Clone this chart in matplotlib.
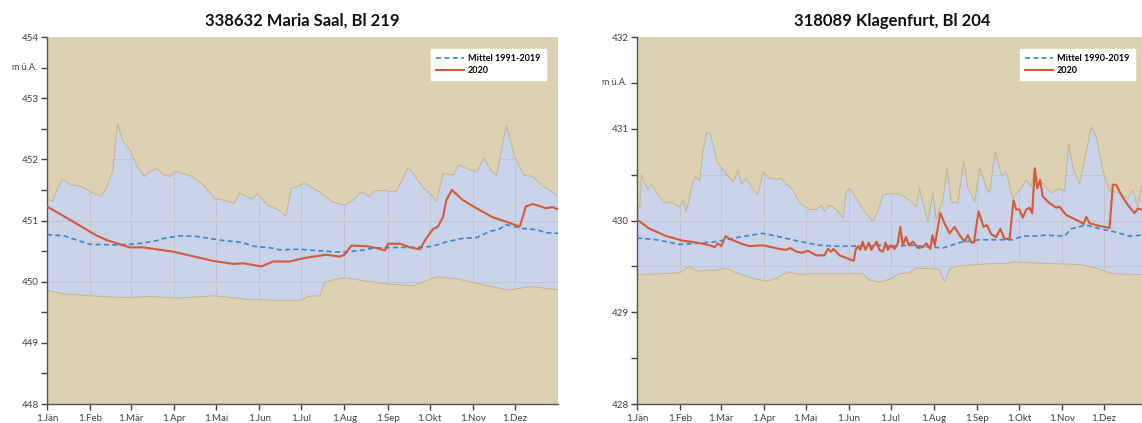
import matplotlib
matplotlib.use("Agg")
import matplotlib.pyplot as plt
from matplotlib.patches import Polygon
from matplotlib.ticker import MultipleLocator

plt.rcParams["font.family"] = ["Lato", "DejaVu Sans"]

# Month starts (day of year, 2020) and their labels
month_days = [0, 31, 60, 91, 121, 152, 182, 213, 244, 274, 305, 335]
month_labels = ["1.Jän", "1.Feb", "1.Mär", "1.Apr", "1.Mai", "1.Jun",
                "1.Jul", "1.Aug", "1.Sep", "1.Okt", "1.Nov", "1.Dez"]

# ---------------- 338632 Maria Saal, Bl 219 ----------------
ms_title = "338632 Maria Saal, Bl 219"
ms_mean_label = "Mittel 1991-2019"

ms_max_days = [0, 4, 7, 11, 13, 17, 21, 27, 34, 39, 43, 47, 50.5, 54, 59.5, 64.6,
               70, 73.6, 78.7, 84, 87.7, 91.6, 96.7, 104, 112, 120, 125, 134, 138,
               143, 147, 150.5, 158, 166, 171, 175, 179, 184, 189, 197, 204, 209.7,
               213, 219, 225, 231, 234.8, 241.5, 250, 255, 258.6, 264.7, 269, 276.5,
               279, 283.7, 291, 294.5, 300.6, 308, 313, 318.5, 322, 329, 335, 341.6,
               348, 355.7, 360, 366]
ms_max_vals = [451.36, 451.31, 451.50, 451.67, 451.66, 451.58, 451.58, 451.53, 451.44,
               451.40, 451.55, 451.80, 452.59, 452.31, 452.15, 451.88, 451.72, 451.80,
               451.85, 451.74, 451.72, 451.80, 451.77, 451.72, 451.58, 451.36, 451.34,
               451.28, 451.45, 451.39, 451.35, 451.44, 451.25, 451.17, 451.07, 451.53,
               451.55, 451.61, 451.55, 451.44, 451.31, 451.27, 451.25, 451.33, 451.47,
               451.39, 451.49, 451.49, 451.47, 451.69, 451.87, 451.69, 451.55, 451.39,
               451.31, 451.77, 451.74, 451.91, 451.85, 451.80, 452.02, 451.80, 451.74,
               452.56, 452.04, 451.74, 451.72, 451.55, 451.50, 451.40]

ms_min_days = [0, 12, 30, 56, 73.6, 94, 120, 145, 171, 182.6, 186.5, 195.4, 199,
               207, 214.7, 231, 245.6, 262, 279, 293, 312, 331, 345.7, 366]
ms_min_vals = [449.86, 449.80, 449.77, 449.74, 449.76, 449.73, 449.77, 449.71, 449.69,
               449.70, 449.76, 449.77, 449.99, 450.04, 450.06, 450.00, 449.96, 449.93,
               450.08, 450.05, 449.95, 449.86, 449.92, 449.87]

ms_mean_days = [0, 12, 30.8, 50.5, 59.4, 68.5, 78.5, 84, 95.2, 107, 123.8, 140, 147.7,
                161, 166.8, 181, 191.6, 212, 227.5, 233.6, 253, 269, 276.5, 286, 298,
                307.6, 317, 324, 329, 341, 350.6, 357.6, 366]
ms_mean_vals = [450.77, 450.75, 450.61, 450.60, 450.61, 450.63, 450.67, 450.71, 450.75,
                450.74, 450.68, 450.64, 450.58, 450.55, 450.52, 450.53, 450.51, 450.48,
                450.52, 450.55, 450.56, 450.56, 450.58, 450.65, 450.71, 450.72, 450.82,
                450.86, 450.93, 450.87, 450.85, 450.80, 450.79]

ms_2020_days = [0, 12, 18.8, 35, 42.7, 59.4, 69, 90.4, 119, 133.4, 140.6, 153.7, 162,
                174, 181, 188, 200, 209.7, 213, 218, 229, 236, 242, 244.3, 253, 260,
                267, 272, 276.5, 280, 283.7, 286, 290, 298, 307.6, 319.5, 329, 338.6,
                343, 348, 357.6, 362, 366]
ms_2020_vals = [451.23, 451.07, 450.98, 450.76, 450.68, 450.56, 450.56, 450.49, 450.34,
                450.29, 450.30, 450.25, 450.33, 450.33, 450.37, 450.40, 450.44, 450.41,
                450.44, 450.59, 450.58, 450.55, 450.51, 450.62, 450.62, 450.56, 450.53,
                450.72, 450.86, 450.90, 451.06, 451.33, 451.50, 451.33, 451.20, 451.05,
                450.98, 450.90, 451.23, 451.27, 451.20, 451.22, 451.18]

# ---------------- 318089 Klagenfurt, Bl 204 ----------------
kf_title = "318089 Klagenfurt, Bl 204"
kf_mean_label = "Mittel 1990-2019"

kf_max_days = [0, 2, 3.1, 6.2, 7.9, 10.3, 13.9, 18.7, 25.8, 30.6, 33, 35.4, 39, 41.4,
               45, 47.3, 50.2, 52.6, 57.4, 64.1, 68.9, 72.5, 74.9, 78.5, 82, 86.8, 90.4,
               95.2, 100, 103.6, 107, 112, 116.7, 124, 128.7, 132.3, 134.6, 138.2, 143,
               147.8, 150.2, 152.6, 157.4, 162, 169.3, 172.9, 176.5, 181.3, 188.5,
               195.6, 200.4, 202.8, 205.2, 208.8, 212.3, 214.8, 219.5, 222.7, 225.5,
               230.3, 234.4, 237.5, 242.3, 245.8, 250.6, 253, 257.1, 261.4, 265, 269.7,
               274.5, 279.4, 283, 284.8, 287.7, 291.2, 297.3, 303.2, 306.8, 309.9,
               312.8, 317.6, 321.2, 326, 329.6, 334.3, 339.1, 346.3, 352.2, 355.8,
               359.4, 362, 366]
kf_max_vals = [430.13, 430.14, 430.50, 430.39, 430.33, 430.40, 430.31, 430.20, 430.19,
               430.15, 430.22, 430.10, 430.35, 430.48, 430.43, 430.75, 430.96, 430.95,
               430.64, 430.51, 430.42, 430.55, 430.40, 430.46, 430.37, 430.28, 430.53,
               430.46, 430.45, 430.46, 430.40, 430.33, 430.19, 430.12, 430.12, 430.17,
               430.10, 430.17, 430.12, 430.03, 430.31, 430.35, 430.24, 430.12, 429.99,
               430.10, 430.28, 430.29, 430.29, 430.22, 430.15, 430.35, 430.19, 429.99,
               430.30, 430.01, 430.22, 430.57, 430.20, 430.19, 430.65, 430.35, 430.20,
               430.57, 430.37, 430.30, 430.75, 430.50, 430.53, 430.24, 430.33, 430.44,
               430.37, 430.55, 430.44, 430.40, 430.30, 430.35, 430.32, 430.84, 430.57,
               430.40, 430.66, 431.02, 430.91, 430.55, 430.33, 430.30, 430.24, 430.33,
               430.15, 430.37, 430.30]

kf_min_days = [0, 18.7, 30.6, 37.8, 42.6, 57, 64.1, 71.3, 83.2, 92.8, 100, 108.3,
               116.7, 128.7, 147.8, 162, 167, 174.1, 181.3, 188.5, 195.6, 200.4, 217,
               220.7, 224.3, 229, 243.5, 253, 265, 269.7, 279.4, 298.4, 317.6, 329.6,
               341.5, 362, 366]
kf_min_vals = [429.41, 429.42, 429.43, 429.50, 429.45, 429.46, 429.48, 429.43, 429.37,
               429.34, 429.37, 429.44, 429.41, 429.42, 429.42, 429.42, 429.35, 429.33,
               429.36, 429.42, 429.43, 429.48, 429.47, 429.33, 429.47, 429.50, 429.52,
               429.53, 429.53, 429.55, 429.54, 429.53, 429.52, 429.48, 429.42, 429.41,
               429.41]

kf_mean_days = [0, 13.9, 30.6, 42.6, 57, 73.7, 90, 100, 114.3, 131, 143, 157.4, 174,
                181.3, 198, 219.5, 231.5, 245.8, 257.8, 269.7, 276.9, 286.5, 293.7,
                306.8, 311.6, 322.4, 331.9, 341.5, 353.5, 362, 366]
kf_mean_vals = [429.81, 429.79, 429.74, 429.75, 429.77, 429.82, 429.86, 429.83, 429.78,
                429.73, 429.72, 429.72, 429.73, 429.72, 429.73, 429.70, 429.76, 429.79,
                429.79, 429.79, 429.83, 429.83, 429.84, 429.83, 429.91, 429.95, 429.91,
                429.88, 429.83, 429.84, 429.84]

kf_2020_days = [0, 9.1, 21, 33, 42.6, 52.1, 55.7, 58.1, 60.5, 63.6, 66.5, 76, 80.8,
                90.4, 102.3, 107, 110, 114.3, 119, 122.6, 128.7, 134.6, 137, 139.4, 141,
                145.4, 155.5, 156.9, 158.6, 160.2, 162, 164, 166.3, 168, 172, 174,
                176.5, 178.4, 180, 182.4, 184.8, 187.2, 189, 190.7, 193.1, 195, 198,
                201.6, 205.2, 207.6, 210.5, 212, 213.7, 217.7, 220.7, 224.3, 227.9,
                231.5, 235.1, 237.5, 239.9, 241.8, 245.1, 248.7, 251.1, 254.2, 257.8,
                260.7, 263.8, 267.4, 270.2, 272.1, 274.5, 276.9, 279.4, 281.7, 283.6,
                285.5, 287.2, 289.3, 291.2, 296, 300.8, 303.2, 308, 317.6, 320.5, 322.4,
                324.8, 331.9, 339.1, 341.5, 343.9, 347.5, 352.2, 357, 359.4, 362, 366]
kf_2020_vals = [430.01, 429.91, 429.83, 429.78, 429.76, 429.73, 429.71, 429.75, 429.72,
                429.83, 429.80, 429.74, 429.72, 429.73, 429.69, 429.68, 429.70, 429.66,
                429.65, 429.67, 429.62, 429.62, 429.69, 429.66, 429.69, 429.62, 429.56,
                429.68, 429.72, 429.68, 429.77, 429.68, 429.76, 429.68, 429.77, 429.68,
                429.66, 429.76, 429.68, 429.73, 429.69, 429.75, 429.93, 429.73, 429.82,
                429.73, 429.77, 429.70, 429.71, 429.75, 429.69, 429.84, 429.73, 430.08,
                429.97, 429.86, 429.93, 429.84, 429.77, 429.84, 429.76, 429.76, 430.10,
                429.93, 429.95, 429.85, 429.82, 429.91, 429.80, 429.80, 430.22, 430.12,
                430.12, 430.03, 430.12, 430.14, 430.08, 430.57, 430.35, 430.44, 430.26,
                430.19, 430.14, 430.15, 430.06, 429.99, 429.96, 430.04, 429.97, 429.94,
                429.92, 430.39, 430.39, 430.28, 430.17, 430.08, 430.13, 430.12, 430.10]

TAN = "#DDD1B4"
BAND = "#C9D3E9"
EDGE = "#C6B48C"
RED = "#D65A38"
BLUE = "#3D86C8"
GRID = "#C3C3C8"
TXT = "#404040"


def draw_panel(ax, title, ylim, unit_y, grid_step,
               max_d, max_v, min_d, min_v, mean_d, mean_v, y20_d, y20_v, mean_label):
    ax.set_facecolor(TAN)
    ax.set_xlim(0, 366)
    ax.set_ylim(*ylim)

    # Range band between the long-term minimum and maximum
    band_xy = list(zip(max_d, max_v)) + list(zip(min_d[::-1], min_v[::-1]))
    band = Polygon(band_xy, closed=True, facecolor=BAND, edgecolor="none", zorder=1)
    ax.add_patch(band)
    ax.plot(max_d, max_v, color=EDGE, lw=0.7, zorder=1.6)
    ax.plot(min_d, min_v, color=EDGE, lw=0.7, zorder=1.6)

    # Grid lines, visible only inside the band
    y = ylim[0] + grid_step
    while y < ylim[1] - 1e-9:
        gl = ax.axhline(y, color=GRID, lw=0.7, zorder=1.2)
        gl.set_clip_path(band)
        y += grid_step
    for d in month_days[1:]:
        gl = ax.axvline(d, color=GRID, lw=0.7, zorder=1.2)
        gl.set_clip_path(band)

    ax.plot(mean_d, mean_v, color=BLUE, lw=1.2, ls=(0, (3, 2)), zorder=3,
            label=mean_label)
    ax.plot(y20_d, y20_v, color=RED, lw=1.5, zorder=4, label="2020")

    ax.set_xticks(month_days)
    ax.set_xticklabels(month_labels)
    ax.yaxis.set_major_locator(MultipleLocator(1))
    ax.yaxis.set_minor_locator(MultipleLocator(0.5))
    ax.tick_params(axis="both", which="both", direction="out", length=4, width=1,
                   color="#404040", labelsize=7, labelcolor=TXT, pad=2)
    ax.tick_params(axis="x", length=4, pad=3)
    for s in ("top", "right"):
        ax.spines[s].set_visible(False)
    for s in ("left", "bottom"):
        ax.spines[s].set_color("#555555")
        ax.spines[s].set_linewidth(1.0)

    ax.text(-0.02, unit_y, "m ü.A.", transform=ax.get_yaxis_transform(),
            ha="right", va="center", fontsize=6.5, color=TXT)

    ax.set_title(title, fontsize=12, fontweight="bold", color="#111111", pad=8)

    leg = ax.legend(loc="upper right", bbox_to_anchor=(0.985, 0.98), frameon=True,
                    fancybox=False, framealpha=1, facecolor="white", edgecolor="white",
                    prop={"size": 6.5, "weight": "bold"}, handlelength=3.0,
                    borderpad=0.6, labelspacing=0.3, handletextpad=0.5)
    leg.set_zorder(10)


fig = plt.figure(figsize=(11.42, 4.23), dpi=100)
ax1 = fig.add_axes([47 / 1142, 19 / 423, 511 / 1142, 367 / 423])
ax2 = fig.add_axes([637 / 1142, 19 / 423, 510 / 1142, 367 / 423])

draw_panel(ax1, ms_title, (448, 454), 453.5, 1.0,
           ms_max_days, ms_max_vals, ms_min_days, ms_min_vals,
           ms_mean_days, ms_mean_vals, ms_2020_days, ms_2020_vals, ms_mean_label)
draw_panel(ax2, kf_title, (428, 432), 431.5, 0.5,
           kf_max_days, kf_max_vals, kf_min_days, kf_min_vals,
           kf_mean_days, kf_mean_vals, kf_2020_days, kf_2020_vals, kf_mean_label)

fig.savefig("out.png", dpi=100, facecolor="white")
